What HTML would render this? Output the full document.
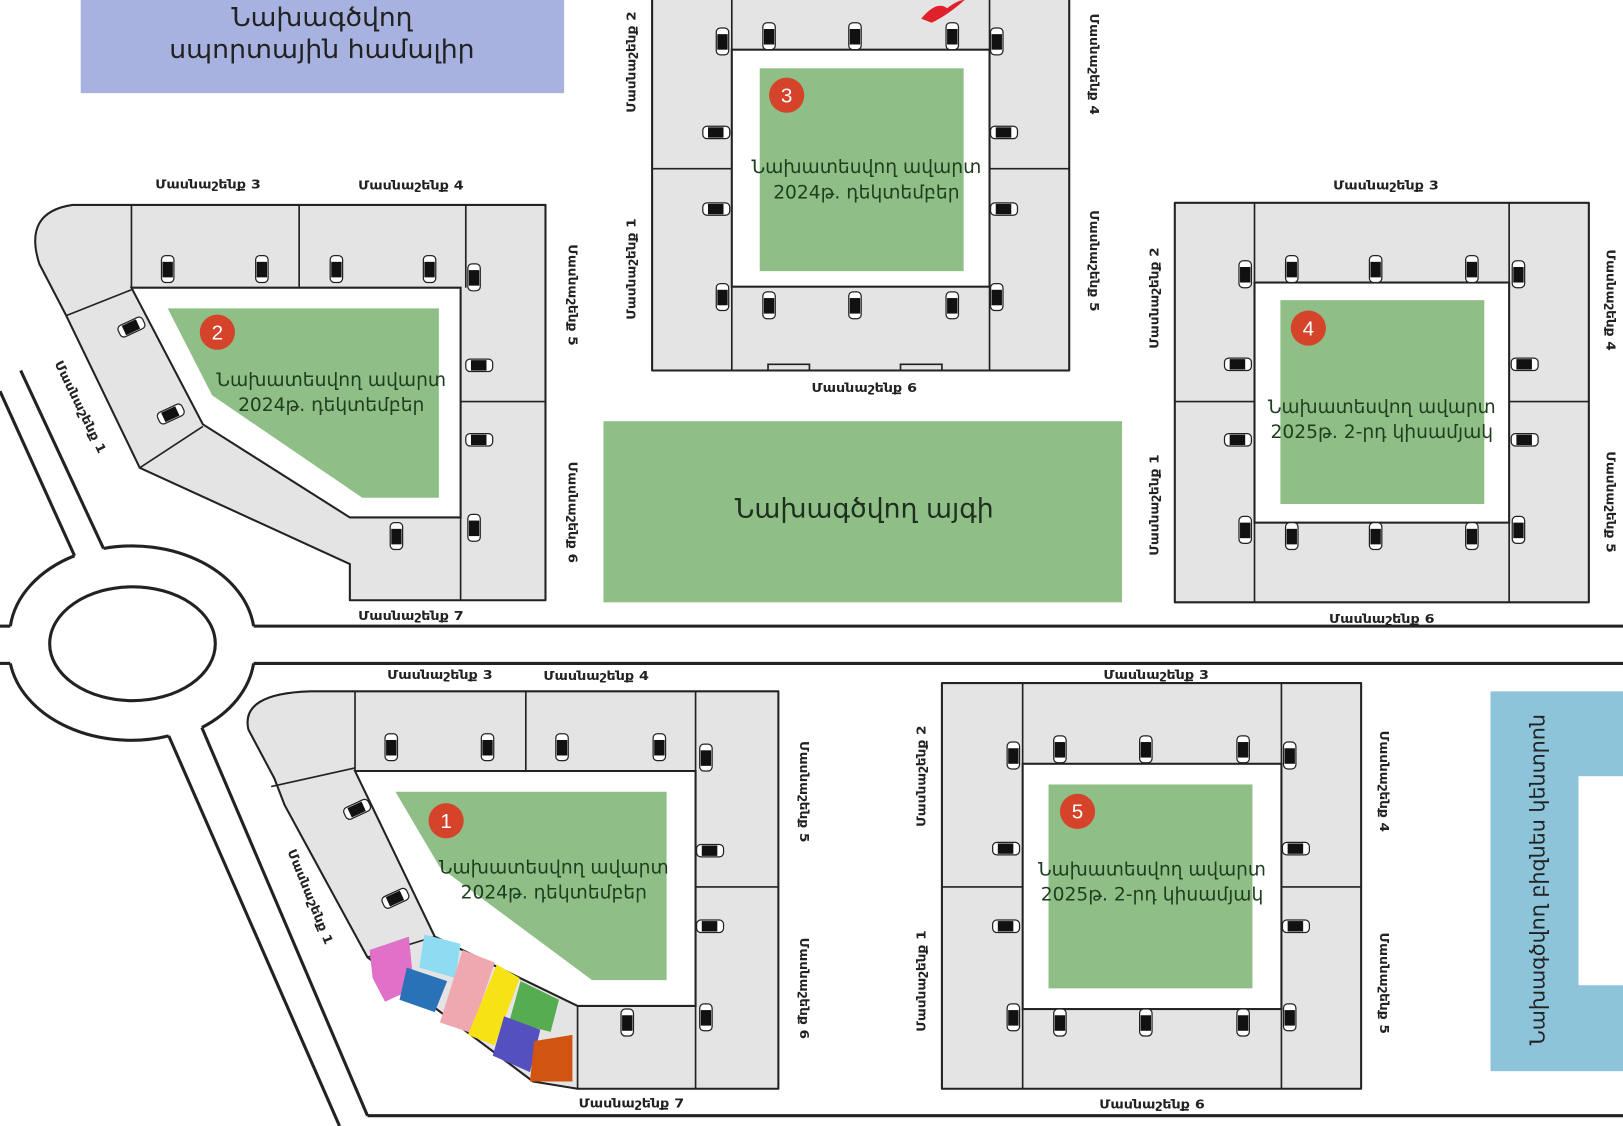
<!DOCTYPE html>
<html><head><meta charset="utf-8"><style>
html,body{margin:0;padding:0;background:#fff;}
svg{display:block}
text{font-family:"DejaVu Sans","Liberation Sans",sans-serif;}
.lb{font-size:12px;fill:#222;font-weight:bold}
.gt{font-size:18px;fill:#1f3d1f}
.b{fill:#e5e4e4;stroke:#222;stroke-width:2;stroke-linejoin:round}
.c{fill:#fff;stroke:#222;stroke-width:2}
.l{stroke:#222;stroke-width:1.6;fill:none}
.g{fill:#8fbf86}
.r{stroke:#222;stroke-width:3;fill:none}
.m{fill:#d5432a}
.mt{font-size:20px;fill:#fff;font-family:"Liberation Sans",sans-serif}
</style></head><body>
<svg width="1623" height="1126" viewBox="0 0 1568 1088" preserveAspectRatio="none" xmlns="http://www.w3.org/2000/svg">
<defs>
<g id="cv"><rect x="-6" y="-13" width="12" height="26" rx="4" fill="#fff" stroke="#222" stroke-width="1.2"/><rect x="-5" y="-7" width="10" height="15" fill="#111"/></g>
<g id="ch"><rect x="-13" y="-6" width="26" height="12" rx="4" fill="#fff" stroke="#222" stroke-width="1.2"/><rect x="-8" y="-5" width="15" height="10" fill="#111"/></g>
</defs>
<rect width="1568" height="1088" fill="#fff"/>

<!-- roads -->
<line class="r" x1="245" y1="605" x2="1568" y2="605"/>
<line class="r" x1="245" y1="641" x2="1568" y2="641"/>
<line class="r" x1="0" y1="605" x2="10" y2="605"/>
<line class="r" x1="0" y1="641" x2="10" y2="641"/>
<path class="r" d="M10,605 A118,88 0 0 1 72,537"/>
<path class="r" d="M100,530 A118,88 0 0 1 245,605"/>
<path class="r" d="M245,641 A118,88 0 0 1 195,703"/>
<path class="r" d="M163,711 A118,88 0 0 1 10,641"/>
<ellipse class="r" cx="128" cy="622" rx="80" ry="55"/>
<line class="r" x1="0" y1="378" x2="72" y2="537"/>
<line class="r" x1="20" y1="358" x2="100" y2="530"/>
<line class="r" x1="163" y1="711" x2="328" y2="1088"/>
<line class="r" x1="195" y1="703" x2="355" y2="1078"/>
<line class="r" x1="355" y1="1078" x2="1568" y2="1078"/>

<!-- top blue box -->
<rect x="78" y="0" width="467" height="90" fill="#a8b2e0"/>
<text x="311" y="25" text-anchor="middle" font-size="25" fill="#222" textLength="175" lengthAdjust="spacingAndGlyphs">Նախագծվող</text>
<text x="311" y="56" text-anchor="middle" font-size="25" fill="#222" textLength="295" lengthAdjust="spacingAndGlyphs">սպորտային համալիր</text>

<!-- right blue box -->
<rect x="1440" y="668" width="128" height="367" fill="#8dc4da"/>
<rect x="1525" y="750" width="43" height="202" fill="#fff"/>
<text transform="translate(1492,850) rotate(-90)" text-anchor="middle" font-size="20" fill="#222" textLength="320" lengthAdjust="spacingAndGlyphs">Նախագծվող բիզնես կենտրոն</text>

<!-- park -->
<rect x="583" y="407" width="501" height="175" class="g"/>
<text x="835" y="500" text-anchor="middle" font-size="26" fill="#1f2f1f" textLength="250" lengthAdjust="spacingAndGlyphs">Նախագծվող այգի</text>

<!-- BLOCK 3 -->
<rect class="b" x="630" y="-5" width="403" height="363"/>
<rect class="c" x="707" y="48" width="249" height="229"/>
<path class="l" d="M707,-5V48M956,-5V48M707,277V358M956,277V358M630,163H707M956,163H1033"/>
<path class="l" d="M742,358v-6h40v6M870,358v-6h40v6"/>
<rect class="g" x="734" y="66" width="197" height="196"/>
<circle class="m" cx="760" cy="92" r="17"/><text class="mt" x="760" y="99" text-anchor="middle">3</text>
<text class="gt" x="837" y="167" text-anchor="middle" textLength="222" lengthAdjust="spacingAndGlyphs">Նախատեսվող ավարտ</text>
<text class="gt" x="837" y="192" text-anchor="middle" textLength="180" lengthAdjust="spacingAndGlyphs">2024թ. դեկտեմբեր</text>
<use href="#cv" x="698" y="40"/><use href="#cv" x="743" y="35"/><use href="#cv" x="826" y="35"/><use href="#cv" x="920" y="35"/><use href="#cv" x="963" y="40"/>
<use href="#ch" x="692" y="128"/><use href="#ch" x="692" y="202"/><use href="#ch" x="970" y="128"/><use href="#ch" x="970" y="202"/>
<use href="#cv" x="698" y="287"/><use href="#cv" x="743" y="295"/><use href="#cv" x="826" y="295"/><use href="#cv" x="920" y="295"/><use href="#cv" x="963" y="287"/>
<path d="M890,18 Q905,0 915,8 Q925,0 932,0 Q915,15 900,22 Z" fill="#e0202a"/>
<text class="lb" transform="translate(614,60) rotate(-90)" text-anchor="middle" textLength="98" lengthAdjust="spacingAndGlyphs">Մասնաշենք 2</text>
<text class="lb" transform="translate(614,260) rotate(-90)" text-anchor="middle" textLength="98" lengthAdjust="spacingAndGlyphs">Մասնաշենք 1</text>
<text class="lb" transform="translate(1053,62) rotate(90)" text-anchor="middle" textLength="98" lengthAdjust="spacingAndGlyphs">Մասնաշենք 4</text>
<text class="lb" transform="translate(1053,252) rotate(90)" text-anchor="middle" textLength="98" lengthAdjust="spacingAndGlyphs">Մասնաշենք 5</text>
<text class="lb" x="835" y="379" text-anchor="middle" textLength="102" lengthAdjust="spacingAndGlyphs">Մասնաշենք 6</text>

<!-- BLOCK 4 -->
<rect class="b" x="1135" y="196" width="400" height="386"/>
<rect class="c" x="1212" y="273" width="246" height="232"/>
<path class="l" d="M1212,196V273M1458,196V273M1212,505V582M1458,505V582M1135,388H1212M1458,388H1535"/>
<rect class="g" x="1237" y="290" width="197" height="197"/>
<circle class="m" cx="1264" cy="317" r="17"/><text class="mt" x="1264" y="324" text-anchor="middle">4</text>
<text class="gt" x="1335" y="399" text-anchor="middle" textLength="220" lengthAdjust="spacingAndGlyphs">Նախատեսվող ավարտ</text>
<text class="gt" x="1335" y="423" text-anchor="middle" textLength="215" lengthAdjust="spacingAndGlyphs">2025թ. 2-րդ կիսամյակ</text>
<use href="#cv" x="1203" y="265"/><use href="#cv" x="1248" y="260"/><use href="#cv" x="1329" y="260"/><use href="#cv" x="1422" y="260"/><use href="#cv" x="1467" y="265"/>
<use href="#ch" x="1196" y="352"/><use href="#ch" x="1196" y="425"/><use href="#ch" x="1473" y="352"/><use href="#ch" x="1473" y="425"/>
<use href="#cv" x="1203" y="512"/><use href="#cv" x="1248" y="518"/><use href="#cv" x="1329" y="518"/><use href="#cv" x="1422" y="518"/><use href="#cv" x="1467" y="512"/>
<text class="lb" x="1339" y="183" text-anchor="middle" textLength="102" lengthAdjust="spacingAndGlyphs">Մասնաշենք 3</text>
<text class="lb" transform="translate(1119,288) rotate(-90)" text-anchor="middle" textLength="98" lengthAdjust="spacingAndGlyphs">Մասնաշենք 2</text>
<text class="lb" transform="translate(1119,488) rotate(-90)" text-anchor="middle" textLength="98" lengthAdjust="spacingAndGlyphs">Մասնաշենք 1</text>
<text class="lb" transform="translate(1552,290) rotate(90)" text-anchor="middle" textLength="98" lengthAdjust="spacingAndGlyphs">Մասնաշենք 4</text>
<text class="lb" transform="translate(1552,485) rotate(90)" text-anchor="middle" textLength="98" lengthAdjust="spacingAndGlyphs">Մասնաշենք 5</text>
<text class="lb" x="1335" y="602" text-anchor="middle" textLength="102" lengthAdjust="spacingAndGlyphs">Մասնաշենք 6</text>

<!-- BLOCK 5 -->
<rect class="b" x="910" y="660" width="405" height="392"/>
<rect class="c" x="988" y="738" width="250" height="237"/>
<path class="l" d="M988,660V738M1238,660V738M988,975V1052M1238,975V1052M910,857H988M1238,857H1315"/>
<rect class="g" x="1013" y="758" width="197" height="197"/>
<circle class="m" cx="1041" cy="784" r="17"/><text class="mt" x="1041" y="791" text-anchor="middle">5</text>
<text class="gt" x="1113" y="846" text-anchor="middle" textLength="220" lengthAdjust="spacingAndGlyphs">Նախատեսվող ավարտ</text>
<text class="gt" x="1113" y="870" text-anchor="middle" textLength="215" lengthAdjust="spacingAndGlyphs">2025թ. 2-րդ կիսամյակ</text>
<use href="#cv" x="979" y="730"/><use href="#cv" x="1024" y="724"/><use href="#cv" x="1107" y="724"/><use href="#cv" x="1201" y="724"/><use href="#cv" x="1246" y="730"/>
<use href="#ch" x="972" y="820"/><use href="#ch" x="972" y="895"/><use href="#ch" x="1252" y="820"/><use href="#ch" x="1252" y="895"/>
<use href="#cv" x="979" y="983"/><use href="#cv" x="1024" y="988"/><use href="#cv" x="1107" y="988"/><use href="#cv" x="1201" y="988"/><use href="#cv" x="1246" y="983"/>
<text class="lb" x="1117" y="656" text-anchor="middle" textLength="102" lengthAdjust="spacingAndGlyphs">Մասնաշենք 3</text>
<text class="lb" transform="translate(894,750) rotate(-90)" text-anchor="middle" textLength="98" lengthAdjust="spacingAndGlyphs">Մասնաշենք 2</text>
<text class="lb" transform="translate(894,948) rotate(-90)" text-anchor="middle" textLength="98" lengthAdjust="spacingAndGlyphs">Մասնաշենք 1</text>
<text class="lb" transform="translate(1333,755) rotate(90)" text-anchor="middle" textLength="98" lengthAdjust="spacingAndGlyphs">Մասնաշենք 4</text>
<text class="lb" transform="translate(1333,950) rotate(90)" text-anchor="middle" textLength="98" lengthAdjust="spacingAndGlyphs">Մասնաշենք 5</text>
<text class="lb" x="1113" y="1071" text-anchor="middle" textLength="102" lengthAdjust="spacingAndGlyphs">Մասնաշենք 6</text>

<!-- BLOCK 2 -->
<path class="b" d="M70,198 L527,198 L527,580 L338,580 L338,545 L135,452 L64,305 L38,255 Q22,205 70,198 Z"/>
<path class="c" d="M127,278 L445,278 L445,500 L338,500 L196,410 Z"/>
<path class="l" d="M127,198V278M289,198V278M450,198V278M445,388H527M445,500V580M64,305L127,280M135,452L196,412"/>
<polygon class="g" points="162,298 424,298 424,481 350,481 205,382"/>
<circle class="m" cx="210" cy="321" r="17"/><text class="mt" x="210" y="328" text-anchor="middle">2</text>
<text class="gt" x="320" y="373" text-anchor="middle" textLength="222" lengthAdjust="spacingAndGlyphs">Նախատեսվող ավարտ</text>
<text class="gt" x="320" y="397" text-anchor="middle" textLength="180" lengthAdjust="spacingAndGlyphs">2024թ. դեկտեմբեր</text>
<use href="#cv" x="162" y="260"/><use href="#cv" x="253" y="260"/><use href="#cv" x="325" y="260"/><use href="#cv" x="415" y="260"/><use href="#cv" x="458" y="268"/>
<use href="#ch" x="463" y="353"/><use href="#ch" x="463" y="425"/><use href="#cv" x="458" y="510"/><use href="#cv" x="383" y="518"/>
<use href="#ch" transform="translate(127,316) rotate(-25)"/><use href="#ch" transform="translate(165,400) rotate(-25)"/>
<text class="lb" x="201" y="182" text-anchor="middle" textLength="102" lengthAdjust="spacingAndGlyphs">Մասնաշենք 3</text>
<text class="lb" x="397" y="183" text-anchor="middle" textLength="102" lengthAdjust="spacingAndGlyphs">Մասնաշենք 4</text>
<text class="lb" transform="translate(549,285) rotate(90)" text-anchor="middle" textLength="98" lengthAdjust="spacingAndGlyphs">Մասնաշենք 5</text>
<text class="lb" transform="translate(549,495) rotate(90)" text-anchor="middle" textLength="98" lengthAdjust="spacingAndGlyphs">Մասնաշենք 6</text>
<text class="lb" x="397" y="599" text-anchor="middle" textLength="102" lengthAdjust="spacingAndGlyphs">Մասնաշենք 7</text>
<text class="lb" transform="translate(74,395) rotate(64)" text-anchor="middle" textLength="98" lengthAdjust="spacingAndGlyphs">Մասնաշենք 1</text>

<!-- BLOCK 1 -->
<path class="b" d="M300,668 L752,668 L752,1052 L558,1052 L515,1045 L355,925 L275,778 L265,752 L240,705 Q232,670 300,668 Z"/>
<path class="c" d="M343,745 L672,745 L672,972 L558,972 L420,905 Z"/>
<path class="l" d="M343,668V745M508,668V745M672,668V745M672,857H752M672,972V1052M558,972V1052M262,760L343,742M355,925L420,905"/>
<polygon class="g" points="382,765 644,765 644,947 572,947 425,838"/>
<circle class="m" cx="431" cy="793" r="17"/><text class="mt" x="431" y="800" text-anchor="middle">1</text>
<text class="gt" x="535" y="844" text-anchor="middle" textLength="222" lengthAdjust="spacingAndGlyphs">Նախատեսվող ավարտ</text>
<text class="gt" x="535" y="868" text-anchor="middle" textLength="180" lengthAdjust="spacingAndGlyphs">2024թ. դեկտեմբեր</text>
<!-- colored parking -->
<polygon points="357,918 395,905 400,955 372,968 360,945" fill="#e070c8"/>
<polygon points="410,903 445,912 440,945 405,935" fill="#8fdcf2"/>
<polygon points="393,935 432,948 420,978 386,966" fill="#2a72b8"/>
<polygon points="447,918 478,930 455,998 425,988" fill="#f0a8b0"/>
<polygon points="480,932 502,945 478,1010 452,1000" fill="#f7e216"/>
<polygon points="503,948 540,966 532,997 492,987" fill="#56ad50"/>
<polygon points="487,982 522,995 512,1036 476,1020" fill="#5450c0"/>
<polygon points="516,1006 553,1000 553,1045 512,1045" fill="#d25412"/>
<use href="#cv" x="378" y="722"/><use href="#cv" x="471" y="722"/><use href="#cv" x="543" y="722"/><use href="#cv" x="637" y="722"/><use href="#cv" x="682" y="732"/>
<use href="#ch" x="686" y="822"/><use href="#ch" x="686" y="895"/><use href="#cv" x="682" y="983"/><use href="#cv" x="606" y="988"/>
<use href="#ch" transform="translate(345,782) rotate(-25)"/><use href="#ch" transform="translate(382,868) rotate(-25)"/>
<text class="lb" x="425" y="656" text-anchor="middle" textLength="102" lengthAdjust="spacingAndGlyphs">Մասնաշենք 3</text>
<text class="lb" x="576" y="657" text-anchor="middle" textLength="102" lengthAdjust="spacingAndGlyphs">Մասնաշենք 4</text>
<text class="lb" transform="translate(773,765) rotate(90)" text-anchor="middle" textLength="98" lengthAdjust="spacingAndGlyphs">Մասնաշենք 5</text>
<text class="lb" transform="translate(773,955) rotate(90)" text-anchor="middle" textLength="98" lengthAdjust="spacingAndGlyphs">Մասնաշենք 6</text>
<text class="lb" x="610" y="1070" text-anchor="middle" textLength="102" lengthAdjust="spacingAndGlyphs">Մասնաշենք 7</text>
<text class="lb" transform="translate(296,868) rotate(68)" text-anchor="middle" textLength="98" lengthAdjust="spacingAndGlyphs">Մասնաշենք 1</text>
</svg>
</body></html>
